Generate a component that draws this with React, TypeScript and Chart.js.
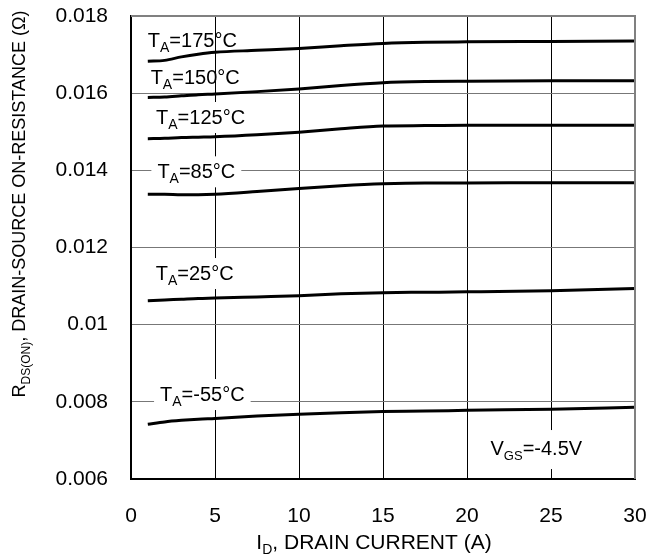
import React, { useEffect, useRef } from "react";
import { Chart, registerables } from "chart.js";

Chart.register(...registerables);

// ---- data ----
const drainCurrent = [1, 2, 3, 4, 5, 7.5, 10, 12.5, 15, 17.5, 20, 25, 30];
const rds175 = [0.01683, 0.01685, 0.01694, 0.01701, 0.01706, 0.01711, 0.01716, 0.01723, 0.01729, 0.01732, 0.01733, 0.01734, 0.01735];
const rds150 = [0.01589, 0.0159, 0.01593, 0.01596, 0.01598, 0.01604, 0.01611, 0.0162, 0.01627, 0.0163, 0.01631, 0.01632, 0.01632];
const rds125 = [0.01482, 0.01483, 0.01485, 0.01486, 0.01487, 0.01492, 0.01499, 0.01508, 0.01515, 0.01516, 0.01517, 0.01517, 0.01517];
const rds85 = [0.01338, 0.01338, 0.01337, 0.01337, 0.01338, 0.01345, 0.01353, 0.0136, 0.01365, 0.01367, 0.01367, 0.01368, 0.01368];
const rds25 = [0.01062, 0.01064, 0.01066, 0.01068, 0.01069, 0.01072, 0.01075, 0.0108, 0.01083, 0.01084, 0.01085, 0.01088, 0.01094];
const rdsMinus55 = [0.00742, 0.00748, 0.00752, 0.00755, 0.00757, 0.00763, 0.00768, 0.00772, 0.00775, 0.00776, 0.00778, 0.00781, 0.00786];
const seriesNames = ["175", "150", "125", "85", "25", "-55"];
const seriesValues = [rds175, rds150, rds125, rds85, rds25, rdsMinus55];
const xTicks = [0, 5, 10, 15, 20, 25, 30];
const yTicks = [0.006, 0.008, 0.01, 0.012, 0.014, 0.016, 0.018];
const vgsText = "-4.5V";

// annotation anchors (data coordinates: left edge x, baseline y) and whether a white box is drawn
const labelAnchors = [
  { x: 1.0, y: 0.017204, box: false },
  { x: 1.17, y: 0.016237, box: false },
  { x: 1.49, y: 0.015201, box: true },
  { x: 1.57, y: 0.013793, box: true },
  { x: 1.47, y: 0.011157, box: true },
  { x: 1.73, y: 0.008021, box: true },
];
const vgsAnchor = { x: 21.4, y: 0.006621 };

const FONT = '"Liberation Sans", Arial, Helvetica, sans-serif';

type Run = [string, boolean];

function runsWidth(ctx: CanvasRenderingContext2D, runs: Run[], size: number, subSize: number) {
  let w = 0;
  for (const [t, sub] of runs) {
    ctx.font = `${sub ? subSize : size}px ${FONT}`;
    w += ctx.measureText(t).width;
  }
  return w;
}

function drawRuns(
  ctx: CanvasRenderingContext2D,
  x: number,
  y: number,
  runs: Run[],
  size: number,
  subSize: number,
  subShift: number
) {
  ctx.textBaseline = "alphabetic";
  ctx.textAlign = "left";
  let cx = x;
  for (const [t, sub] of runs) {
    ctx.font = `${sub ? subSize : size}px ${FONT}`;
    ctx.fillText(t, cx, sub ? y + subShift : y);
    cx += ctx.measureText(t).width;
  }
}

const annotationPlugin = {
  id: "annotations",
  afterDatasetsDraw(chart: any) {
    const ctx: CanvasRenderingContext2D = chart.ctx;
    const xs = chart.scales.x;
    const ys = chart.scales.y;
    const area = chart.chartArea;
    ctx.save();
    // top & right frame (gray)
    ctx.strokeStyle = "#808080";
    ctx.lineWidth = 2;
    ctx.beginPath();
    ctx.moveTo(area.left, area.top);
    ctx.lineTo(area.right, area.top);
    ctx.lineTo(area.right, area.bottom);
    ctx.stroke();

    const size = 20;
    const subSize = 14;
    seriesNames.forEach((name, i) => {
      const a = labelAnchors[i];
      const px = xs.getPixelForValue(a.x);
      const py = ys.getPixelForValue(a.y);
      const runs: Run[] = [["T", false], ["A", true], [`=${name}°C`, false]];
      const w = runsWidth(ctx, runs, size, subSize);
      if (a.box) {
        ctx.fillStyle = "#fff";
        ctx.fillRect(px - 6, py - 22, w + 12, 31);
      }
      ctx.fillStyle = "#000";
      drawRuns(ctx, px, py, runs, size, subSize, 5);
    });

    // VGS label
    {
      const px = xs.getPixelForValue(vgsAnchor.x);
      const py = ys.getPixelForValue(vgsAnchor.y);
      const runs: Run[] = [["V", false], ["GS", true], ["=" + vgsText, false]];
      const w = runsWidth(ctx, runs, 20, 13);
      ctx.fillStyle = "#fff";
      ctx.fillRect(px - 6, py - 25, w + 12, 39);
      ctx.fillStyle = "#000";
      drawRuns(ctx, px, py, runs, 20, 13, 5);
    }

    // x title
    {
      const runs: Run[] = [["I", false], ["D", true], [", DRAIN CURRENT (A)", false]];
      const w = runsWidth(ctx, runs, 21, 14);
      const cx = 374;
      ctx.fillStyle = "#000";
      drawRuns(ctx, cx - w / 2, 549, runs, 21, 14, 5);
    }

    // y title
    {
      const runs: Run[] = [["R", false], ["DS(ON)", true], [", DRAIN-SOURCE ON-RESISTANCE (Ω)", false]];
      const w = runsWidth(ctx, runs, 18, 12);
      ctx.translate(25, 204);
      ctx.rotate(-Math.PI / 2);
      ctx.fillStyle = "#000";
      drawRuns(ctx, -w / 2, 0, runs, 18, 12, 5);
    }
    ctx.restore();
  },
};

export default function App() {
  const ref = useRef<HTMLCanvasElement | null>(null);
  useEffect(() => {
    if (!ref.current) return;
    const datasets = seriesNames.map((name, i) => ({
      label: name,
      data: drainCurrent.map((x, j) => ({ x, y: seriesValues[i][j] })),
      borderColor: "#000",
      borderWidth: 3,
      pointRadius: 0,
      fill: false,
      cubicInterpolationMode: "monotone" as const,
    }));
    const chart = new Chart(ref.current, {
      type: "line",
      data: { datasets },
      plugins: [annotationPlugin],
      options: {
        animation: false,
        responsive: false,
        devicePixelRatio: 1,
        layout: { padding: { top: 16, right: 14, left: 0, bottom: 0 } },
        plugins: { legend: { display: false }, tooltip: { enabled: false } },
        scales: {
          x: {
            type: "linear",
            min: xTicks[0],
            max: xTicks[xTicks.length - 1],
            afterFit: (s: any) => {
              s.height = 76;
              s.paddingLeft = 0;
              s.paddingRight = 0;
            },
            afterBuildTicks: (s: any) => {
              s.ticks = xTicks.map((v) => ({ value: v }));
            },
            ticks: {
              color: "#000",
              padding: 25,
              maxRotation: 0,
              font: { family: FONT, size: 21 },
              callback: (v: any) => String(v),
            },
            grid: {
              drawTicks: false,
              color: (c: any) => (c.tick && c.tick.value === 30 ? "#808080" : "#000"),
              lineWidth: (c: any) => (c.tick && c.tick.value === 30 ? 2 : 1),
            },
            border: { display: true, color: "#000", width: 2 },
          },
          y: {
            type: "linear",
            min: yTicks[0],
            max: yTicks[yTicks.length - 1],
            afterFit: (s: any) => {
              s.width = 131;
              s.paddingTop = 0;
              s.paddingBottom = 0;
            },
            afterBuildTicks: (s: any) => {
              s.ticks = yTicks.map((v) => ({ value: v }));
            },
            ticks: {
              color: "#000",
              padding: 23,
              font: { family: FONT, size: 21 },
              callback: (v: any) => String(Number(Number(v).toFixed(3))),
            },
            grid: {
              drawTicks: false,
              color: (c: any) => (c.tick && Math.abs(c.tick.value - 0.018) < 1e-9 ? "#808080" : "#777"),
              lineWidth: (c: any) => (c.tick && Math.abs(c.tick.value - 0.018) < 1e-9 ? 2 : 1),
            },
            border: { display: true, color: "#000", width: 2 },
          },
        },
      },
    });
    return () => chart.destroy();
  }, []);
  return (
    <div style={{ position: "fixed", left: 0, top: 0, width: 649, height: 555, background: "#fff" }}>
      <canvas ref={ref} width={649} height={555} style={{ width: 649, height: 555, display: "block" }} />
    </div>
  );
}
